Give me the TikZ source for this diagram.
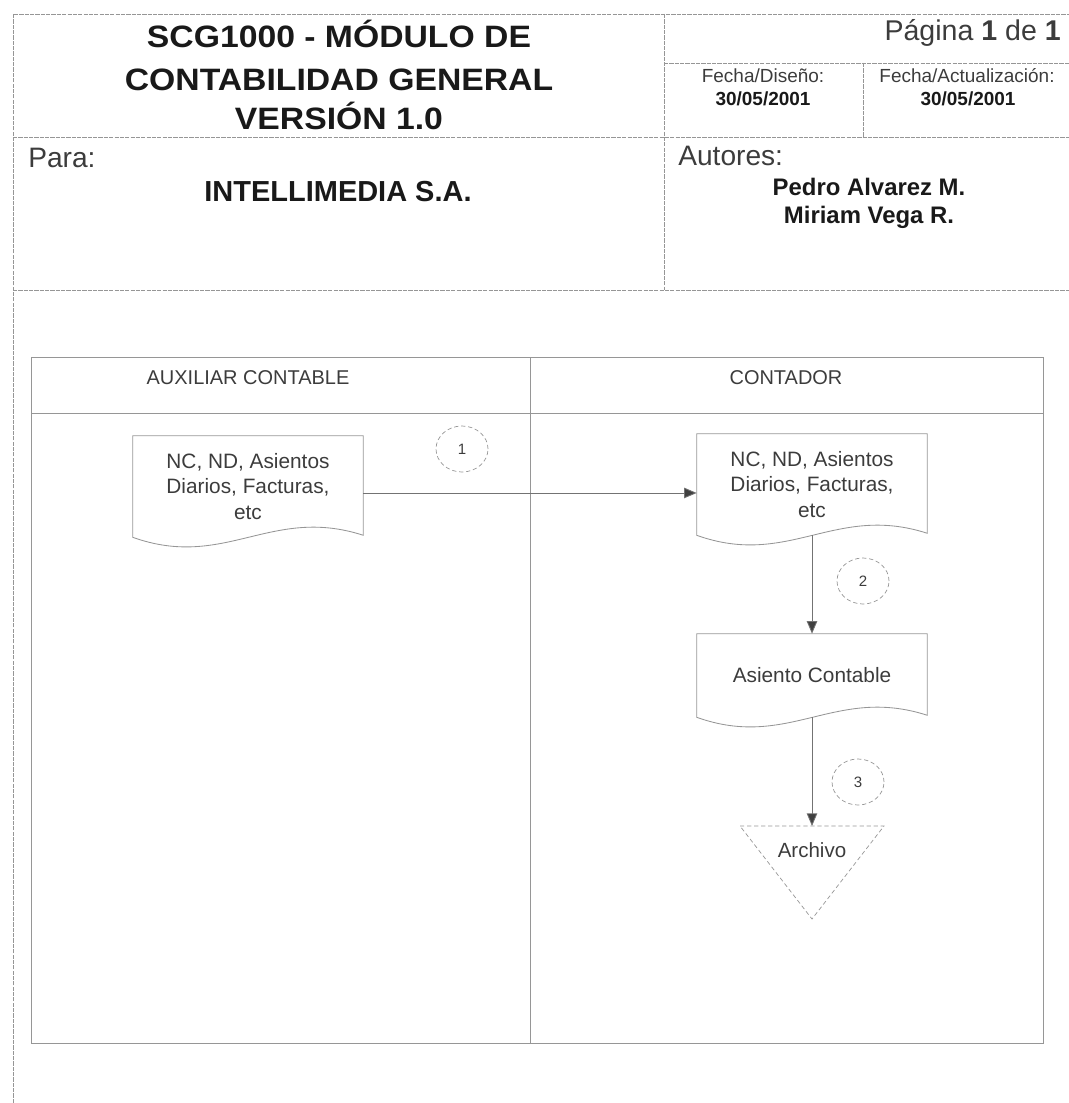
\documentclass[tikz,border=0pt]{standalone}
\usepackage{fontspec}
\setmainfont{Liberation Sans}
\newfontfamily\titlefont[FakeStretch=1.09]{Liberation Sans}
\usepackage{tikz}
\usetikzlibrary{arrows.meta,positioning,shapes,calc}
\definecolor{linegray}{RGB}{150,150,150}
\definecolor{txtgray}{RGB}{60,60,60}
\definecolor{txtdark}{RGB}{25,25,25}

\begin{document}
\begin{tikzpicture}[x=0.025cm,y=-0.025cm,
  hdrline/.style={linegray,line width=0.6pt,dash pattern=on 3pt off 0.8pt},
  laneline/.style={linegray,line width=0.6pt},
  titletxt/.style={font=\titlefont\bfseries\fontsize{22}{24}\selectfont,
    text=txtdark,anchor=base,inner sep=0pt},
  labeltxt/.style={font=\fontsize{20}{22}\selectfont,text=txtgray,inner sep=0pt},
  fechatxt/.style={font=\fontsize{13.5}{15}\selectfont,text=txtgray,anchor=base,inner sep=0pt},
  fechaval/.style={font=\bfseries\fontsize{13.5}{15}\selectfont,text=txtdark,anchor=base,inner sep=0pt},
  nametxt/.style={font=\bfseries\fontsize{17}{19}\selectfont,text=txtdark,anchor=base,inner sep=0pt},
  lanetxt/.style={font=\fontsize{14.2}{16}\selectfont,text=txtgray,anchor=base,inner sep=0pt},
  docbox/.style={minimum width=5.75cm,minimum height=2.525cm,inner sep=0pt,align=center,
    font=\fontsize{14.8}{18.1}\selectfont,text=txtgray},
  numcirc/.style={ellipse,draw=linegray,densely dashed,line width=0.5pt,
    minimum width=1.3cm,minimum height=1.15cm,inner sep=0pt,
    font=\fontsize{10.7}{12}\selectfont,text=txtgray},
  flow/.style={draw=black!55,line width=0.6pt,
    -{Triangle[length=9pt,width=7.5pt,fill=black!75]}}]
% Helper macro: \docshape{node} draws the document outline round a node
\newcommand{\docshape}[1]{%
  \draw[laneline] (#1.north west) -- (#1.north east) -- ($(#1.south east)+(0,-2)$)
    .. controls ($(#1.south)+(23,-32)$) and ($(#1.south)+(-23,33)$) .. (#1.south west)
    -- cycle;
}
\useasboundingbox (0,0) rectangle (1069,1103);

% Header frame
\draw[hdrline] (13,1103) -- (13,14) -- (1069,14);
\draw[hdrline] (664,14) -- (664,290);
\draw[hdrline] (664,63) -- (1069,63);
\draw[hdrline] (863,63) -- (863,137);
\draw[hdrline] (13,137) -- (1069,137);
\draw[hdrline] (13,290) -- (1069,290);

% Header texts
\node[titletxt] (title1) at (339,48) {SCG1000 - MÓDULO DE};
\node[titletxt] (title2) at (339,91) {CONTABILIDAD GENERAL};
\node[titletxt] (title3) at (339,130) {VERSIÓN 1.0};
\node[labeltxt,anchor=base east,font=\fontsize{20.3}{22}\selectfont] (pagina)
  at (1061,41) {Página \textbf{1} de \textbf{1}};
\node[fechatxt] (fdiseno) at (763,83) {Fecha/Diseño:};
\node[fechaval] (fdisenoval) at (763,106) {30/05/2001};
\node[fechatxt] (factual) at (967,83) {Fecha/Actualización:};
\node[fechaval] (factualval) at (968,106) {30/05/2001};
\node[labeltxt,anchor=base west] (para) at (28,167) {Para:};
\node[nametxt,font=\bfseries\fontsize{20.6}{22}\selectfont] (cliente)
  at (338,201) {INTELLIMEDIA S.A.};
\node[labeltxt,anchor=base west] (autores) at (678,165) {Autores:};
\node[nametxt] (autor1) at (869,195) {Pedro Alvarez M.};
\node[nametxt] (autor2) at (869,223) {Miriam Vega R.};

% Swimlanes
\draw[laneline] (31,357) rectangle (1043,1043);
\draw[laneline] (31,413) -- (1043,413);
\draw[laneline] (530,357) -- (530,1043);
\node[lanetxt] (auxiliar) at (248,384) {AUXILIAR CONTABLE};
\node[lanetxt] (contador) at (786,384) {CONTADOR};

% Documents
\node[docbox] (doc1) at (248,486.5) {NC, ND, Asientos\\Diarios, Facturas,\\etc};
\node[docbox] (doc2) at (812,484.5) {NC, ND, Asientos\\Diarios, Facturas,\\etc};
\node[docbox,minimum height=2.075cm] (asiento) at (812,675.5) {Asiento Contable};
\docshape{doc1}
\docshape{doc2}
\docshape{asiento}

% Archive triangle
\coordinate (archtop) at (812,826);
\node[lanetxt,font=\fontsize{14.6}{16}\selectfont] (archivo) at (812,857) {Archivo};
\draw[linegray,densely dashed,line width=0.5pt] ($(archtop)+(-72,0)$) -- ($(archtop)+(72,0)$)
  -- ($(archtop)+(0,93)$) -- cycle;

% Step numbers
\node[numcirc] (n1) at (462,449) {1};
\node[numcirc] (n2) at (863,581) {2};
\node[numcirc] (n3) at (858,782) {3};

% Flow
\draw[flow] ([yshift=-4.6pt]doc1.east) -- ([yshift=-4.6pt]doc1.east -| doc2.west);
\draw[flow] (doc2.south) -- (asiento.north);
\draw[flow] (asiento.south) -- (archtop);
\end{tikzpicture}
\end{document}
